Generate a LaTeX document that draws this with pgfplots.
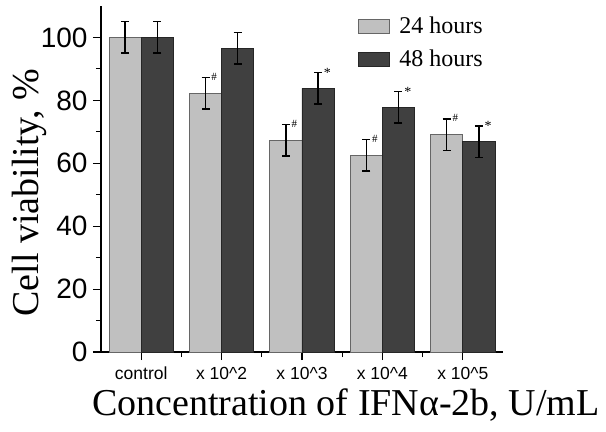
\documentclass[border=0pt]{standalone}
\usepackage{fontspec}
\setmainfont{Liberation Serif}
\newfontfamily\arial{Liberation Sans}
\usepackage{pgfplots}
\pgfplotsset{compat=1.18}
\definecolor{light}{HTML}{C0C0C0}
\definecolor{dark}{HTML}{404040}
\begin{document}
\begin{tikzpicture}[
    hashmark/.style={anchor=west, inner sep=0pt, font=\fontsize{11bp}{11bp}\selectfont},
    starmark/.style={anchor=west, inner sep=0pt, font=\fontsize{14bp}{14bp}\selectfont},
  ]
  \begin{axis}[
      scale only axis,
      width=402bp, height=346bp,
      ymin=0, ymax=110,
      xmin=-0.5, xmax=4.5,
      ytick={0,20,40,60,80,100},
      minor ytick={10,30,50,70,90},
      xtick={0,1,2,3,4},
      minor xtick={0.5,1.5,2.5,3.5},
      xticklabels={control, x 10\textasciicircum 2, x 10\textasciicircum 3, x 10\textasciicircum 4, x 10\textasciicircum 5},
      axis y line*=left,
      axis x line*=bottom,
      axis line style={line width=1.3bp},
      tick align=outside,
      major tick length=8bp,
      minor tick length=5bp,
      every tick/.style={black, line width=1.1bp},
      /pgf/number format/assume math mode=true,
      yticklabel style={font=\arial\fontsize{28bp}{30bp}\selectfont, xshift=-2bp},
      xticklabel style={font=\arial\fontsize{17.5bp}{19bp}\selectfont, inner sep=0pt, yshift=-7bp},
      xlabel={Concentration of IFNα-2b, U/mL},
      ylabel={Cell viability, \%},
      label style={font=\fontsize{38bp}{40bp}\selectfont},
      xlabel style={at={(rel axis cs:0,0)}, anchor=base west, inner sep=0pt, text height=27bp,
                    xshift=-9bp, yshift=-63bp},
      ylabel style={at={(axis description cs:-0.127,0.46)}, anchor=south},
      ybar=0pt, bar width=0.4,
      error bars/error bar style={black, line width=1.5bp},
      error bars/error mark options={rotate=90, mark size=4bp, line width=1.5bp, black},
      legend style={at={(0.64,0.975)}, anchor=north west, draw=none, fill=none,
                    inner sep=0pt,
                    font=\fontsize{24bp}{26bp}\selectfont, row sep=11bp},
      legend image code/.code={\draw[#1] (0bp,-7bp) rectangle (31bp,7bp); \path (38bp,0bp);},
    ]
    \addplot[fill=light, draw=gray!80!black, line width=0.8bp,
             error bars/.cd, y dir=both, y explicit]
      coordinates {(0,100) +- (0,5) (1,82.2) +- (0,5) (2,67.3) +- (0,5) (3,62.6) +- (0,5) (4,69.1) +- (0,5)};
    \addlegendentry{24 hours}
    \addplot[fill=dark, draw=black!85, line width=0.8bp,
             error bars/.cd, y dir=both, y explicit]
      coordinates {(0,100) +- (0,5) (1,96.6) +- (0,5) (2,83.8) +- (0,5) (3,77.8) +- (0,5) (4,66.9) +- (0,5)};
    \addlegendentry{48 hours}
    % significance marks
    \node[hashmark] at (axis cs:0.87,87.4) {\#};
    \node[hashmark] at (axis cs:1.87,72.5) {\#};
    \node[hashmark] at (axis cs:2.87,67.8) {\#};
    \node[hashmark] at (axis cs:3.87,74.3) {\#};
    \node[starmark] at (axis cs:2.27,88.8) {*};
    \node[starmark] at (axis cs:3.27,82.8) {*};
    \node[starmark] at (axis cs:4.27,71.9) {*};
  \end{axis}
  % page extent as in the reference
  \path ([xshift=-101bp,yshift=-80bp]current axis.south west)
        rectangle ([xshift=103bp,yshift=6bp]current axis.north east);
\end{tikzpicture}
\end{document}
